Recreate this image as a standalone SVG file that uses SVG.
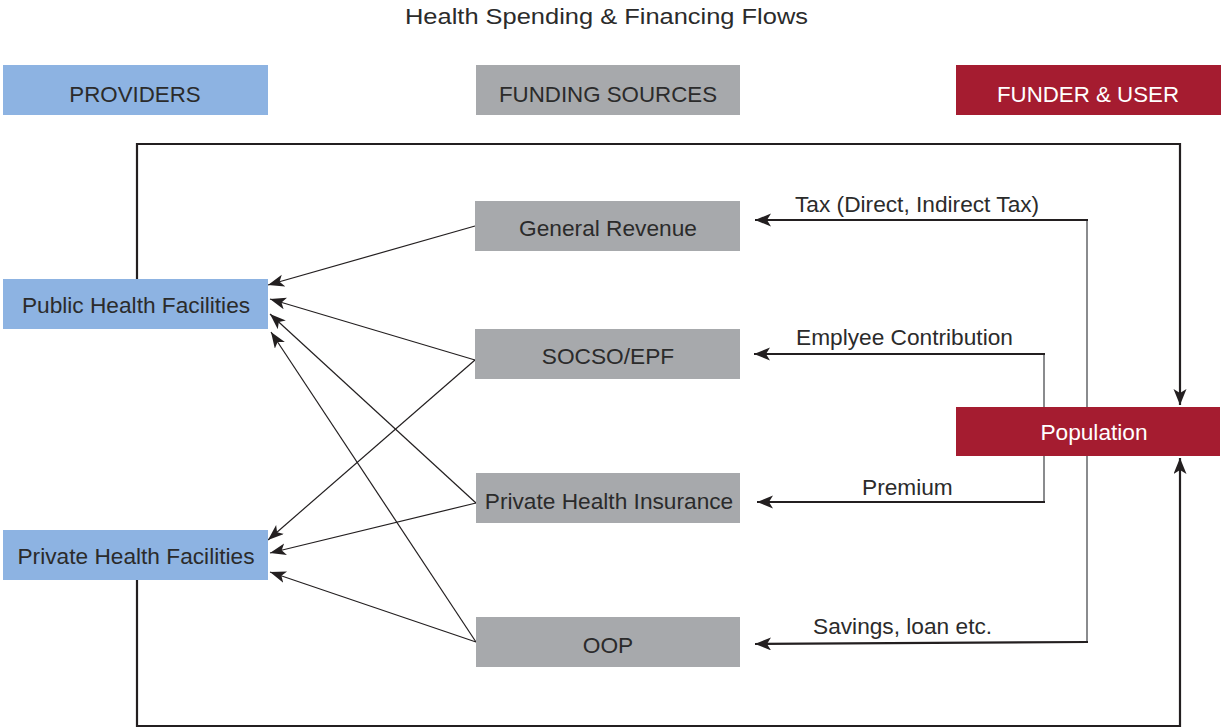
<svg xmlns="http://www.w3.org/2000/svg" width="1221" height="728" viewBox="0 0 1221 728">
<style>
text{font-family:"Liberation Sans",Arial,sans-serif;font-size:22.7px;fill:#2b2b2b}
.hdr{text-anchor:middle;font-size:22.3px}
.lbl{text-anchor:middle}
.w{fill:#ffffff}
.blue{fill:#8db3e2}
.gray{fill:#a7a9ac}
.red{fill:#a51c30}
.thick{fill:none;stroke:#231f20;stroke-width:2.2}
.vert{fill:none;stroke:#6d6e71;stroke-width:1.6}
.thin{fill:none;stroke:#231f20;stroke-width:1.2}
</style>
<defs>
<marker id="ah" markerUnits="userSpaceOnUse" markerWidth="18" markerHeight="14" refX="16" refY="6.5" orient="auto">
<path d="M0,0 L16,6.5 L0,13 L4,6.5 Z" fill="#231f20"/>
</marker>
<marker id="ahs" markerUnits="userSpaceOnUse" markerWidth="18" markerHeight="14" refX="16" refY="6" orient="auto">
<path d="M0,0 L16,6 L0,12 L4,6 Z" fill="#231f20"/>
</marker>
</defs>
<rect width="1221" height="728" fill="#ffffff"/>
<text x="405" y="24" textLength="403" lengthAdjust="spacingAndGlyphs" style="font-size:22.5px">Health Spending &amp; Financing Flows</text>
<g id="hdr-providers"><rect x="3" y="65" width="265" height="50" class="blue"/><text x="135" y="102" class="hdr">PROVIDERS</text></g>
<g id="hdr-funding"><rect x="476" y="65" width="264" height="50" class="gray"/><text x="608" y="102" class="hdr">FUNDING SOURCES</text></g>
<g id="hdr-funder"><rect x="956" y="65" width="265" height="50" class="red"/><text x="1088" y="102" class="hdr w">FUNDER &amp; USER</text></g>
<g id="connectors">
<path d="M137,279 V144 H1180 V405" class="thick" marker-end="url(#ah)"/>
<path d="M137,580 V726 H1180 V458" class="thick" marker-end="url(#ah)"/>
<path d="M1087,407 V220" class="vert"/>
<path d="M1088,220 H755" class="thick" marker-end="url(#ah)"/>
<path d="M1044,407 V354" class="vert"/>
<path d="M1045,354 H754" class="thick" marker-end="url(#ah)"/>
<path d="M1044,456 V502" class="vert"/>
<path d="M1045,502 H757" class="thick" marker-end="url(#ah)"/>
<path d="M1087,456 V642" class="vert"/>
<path d="M1088,642 L755,644" class="thick" marker-end="url(#ah)"/>
<path d="M475,226 L268,285" class="thin" marker-end="url(#ahs)"/>
<path d="M475,360 L270,299" class="thin" marker-end="url(#ahs)"/>
<path d="M475,360 L268,540" class="thin" marker-end="url(#ahs)"/>
<path d="M476,503 L270,314" class="thin" marker-end="url(#ahs)"/>
<path d="M476,503 L270,553" class="thin" marker-end="url(#ahs)"/>
<path d="M476,642 L271,332" class="thin" marker-end="url(#ahs)"/>
<path d="M476,642 L270,572" class="thin" marker-end="url(#ahs)"/>
</g>
<g id="public"><rect x="3" y="279" width="265" height="50" class="blue"/><text x="136" y="313" class="lbl">Public Health Facilities</text></g>
<g id="private"><rect x="3" y="530" width="265" height="50" class="blue"/><text x="136" y="564" class="lbl">Private Health Facilities</text></g>
<g id="general"><rect x="475" y="201" width="265" height="50" class="gray"/><text x="608" y="236" class="lbl">General Revenue</text></g>
<g id="socso"><rect x="475" y="329" width="265" height="50" class="gray"/><text x="608" y="364" class="lbl">SOCSO/EPF</text></g>
<g id="phi"><rect x="476" y="473" width="264" height="50" class="gray"/><text x="609" y="509" class="lbl">Private Health Insurance</text></g>
<g id="oop"><rect x="476" y="617" width="264" height="50" class="gray"/><text x="608" y="653" class="lbl">OOP</text></g>
<g id="population"><rect x="956" y="407" width="264" height="49" class="red"/><text x="1094" y="440" class="lbl w">Population</text></g>
<g id="labels">
<text x="795" y="212">Tax (Direct, Indirect Tax)</text>
<text x="796" y="345">Emplyee Contribution</text>
<text x="862" y="495">Premium</text>
<text x="813" y="634">Savings, loan etc.</text>
</g>
</svg>
